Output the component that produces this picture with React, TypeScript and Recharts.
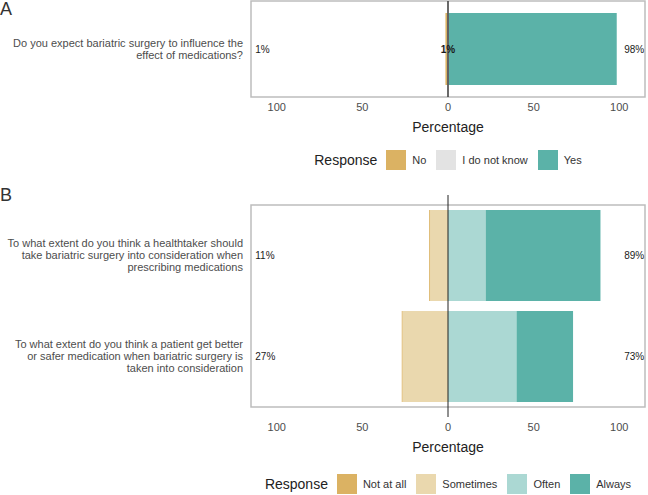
import React from 'react';
import { BarChart, Bar, XAxis, YAxis, ReferenceLine, ReferenceArea, ReferenceDot } from 'recharts';

const FONT = '"Liberation Sans", Arial, Helvetica, sans-serif';

// ---------- Panel A data ----------
const questionsA = ['Do you expect bariatric surgery to influence the\neffect of medications?'];
const noA = [1];
const dontKnowA = [1];
const yesA = [98];
const responsesA = ['No', 'I do not know', 'Yes'];
const coloursA = ['#DBB263', '#E3E3E3', '#5BB2A8'];

// ---------- Panel B data ----------
const questionsB = [
  'To what extent do you think a healthtaker should\ntake bariatric surgery into consideration when\nprescribing medications',
  'To what extent do you think a patient get better\nor safer medication when bariatric surgery is\ntaken into consideration',
];
const notAtAllB = [0.5, 0.5];
const sometimesB = [10.5, 26.5];
const oftenB = [22, 40];
const alwaysB = [67, 33];
const responsesB = ['Not at all', 'Sometimes', 'Often', 'Always'];
const coloursB = ['#DBB263', '#EAD8AE', '#ABD8D3', '#5BB2A8'];

const xTicks = [-100, -50, 0, 50, 100];
const xDomain: [number, number] = [-115, 115];

const dataA = questionsA.map((q, i) => ({
  q,
  dkLow: -dontKnowA[i] / 2,
  no: -noA[i],
  dkHigh: dontKnowA[i] / 2,
  yes: yesA[i],
  left: noA[i],
  mid: dontKnowA[i],
  right: yesA[i],
}));

const dataB = questionsB.map((q, i) => ({
  q,
  sometimes: -sometimesB[i],
  notAtAll: -notAtAllB[i],
  often: oftenB[i],
  always: alwaysB[i],
  left: notAtAllB[i] + sometimesB[i],
  right: oftenB[i] + alwaysB[i],
}));

const QTick = (props: any) => {
  const { x, y, payload } = props;
  const lines = String(payload.value).split('\n');
  const lh = 12;
  const start = -((lines.length - 1) * lh) / 2;
  return (
    <text x={x} y={y} textAnchor="end" fill="#4d4d4d" fontSize={11} fontFamily={FONT}>
      {lines.map((l, i) => (
        <tspan key={i} x={x} y={y + start + i * lh} dy="0.35em">
          {l}
        </tspan>
      ))}
    </text>
  );
};

const pctLabel = (text: string, anchor: 'start' | 'middle' | 'end', bold = false) => (props: any) => {
  const vb = props.viewBox || {};
  return (
    <text
      x={vb.x}
      y={vb.y}
      dy="0.35em"
      textAnchor={anchor}
      fontSize={10}
      fontWeight={bold ? 'bold' : 'normal'}
      fill="#1a1a1a"
      fontFamily={FONT}
    >
      {text}
    </text>
  );
};

const Legend = ({ items, colours, top }: { items: string[]; colours: string[]; top: number }) => (
  <div
    style={{
      position: 'absolute',
      left: 251,
      width: 394,
      top,
      height: 20,
      display: 'flex',
      justifyContent: 'center',
      alignItems: 'center',
      fontFamily: FONT,
    }}
  >
    <span style={{ fontSize: 14, color: '#222', marginRight: 9 }}>Response</span>
    {items.map((it, i) => (
      <React.Fragment key={it}>
        <span style={{ width: 20, height: 20, background: colours[i], display: 'inline-block' }} />
        <span style={{ fontSize: 11, color: '#333', marginLeft: 6, marginRight: i === items.length - 1 ? 0 : 10 }}>{it}</span>
      </React.Fragment>
    ))}
  </div>
);

const axisProps = {
  type: 'number' as const,
  domain: xDomain,
  ticks: xTicks,
  tickFormatter: (v: number) => String(Math.abs(v)),
  axisLine: false,
  tickLine: false,
  tickSize: 6,
  tickMargin: 0,
  tick: { fontSize: 11, fill: '#4d4d4d', fontFamily: FONT },
  height: 43,
  label: { value: 'Percentage', position: 'insideBottom' as const, offset: 8, fill: '#222', fontSize: 14, fontFamily: FONT },
};

export default function App() {
  return (
    <div style={{ position: 'absolute', left: 0, top: 0, width: 648, height: 495, background: '#fff', fontFamily: FONT }}>
      <div style={{ position: 'absolute', left: 0, top: 0, fontSize: 18, color: '#333', lineHeight: '18px' }}>A</div>
      <div style={{ position: 'absolute', left: 0, top: 186, fontSize: 18, color: '#333', lineHeight: '18px' }}>B</div>

      <div style={{ position: 'absolute', left: 0, top: 0 }}>
        <BarChart
          width={648}
          height={140}
          data={dataA}
          layout="vertical"
          stackOffset="sign"
          margin={{ top: 1, right: 3, bottom: 0, left: 0 }}
        >
          <XAxis {...axisProps} />
          <YAxis type="category" dataKey="q" width={251} axisLine={false} tickLine={false} tickSize={6} tickMargin={2} tick={<QTick />} />
          <ReferenceArea x1={xDomain[0]} x2={xDomain[1]} fill="none" fillOpacity={0} stroke="#bdbdbd" strokeWidth={1.5} />
          <Bar dataKey="dkLow" stackId="s" fill={coloursA[1]} barSize={72} isAnimationActive={false} />
          <Bar dataKey="no" stackId="s" fill={coloursA[0]} barSize={72} isAnimationActive={false} />
          <Bar dataKey="dkHigh" stackId="s" fill={coloursA[1]} barSize={72} isAnimationActive={false} />
          <Bar dataKey="yes" stackId="s" fill={coloursA[2]} barSize={72} isAnimationActive={false} />
          <ReferenceLine x={0} stroke="#444" strokeWidth={1.6} />
          {dataA.map((d) => (
            <ReferenceDot key={'l' + d.q} x={-112.5} y={d.q} r={0} fill="none" stroke="none" label={pctLabel(`${Math.round(d.left)}%`, 'start')} />
          ))}
          {dataA.map((d) => (
            <ReferenceDot key={'m' + d.q} x={0} y={d.q} r={0} fill="none" stroke="none" label={pctLabel(`${Math.round(d.mid)}%`, 'middle', true)} />
          ))}
          {dataA.map((d) => (
            <ReferenceDot key={'r' + d.q} x={114.5} y={d.q} r={0} fill="none" stroke="none" label={pctLabel(`${Math.round(d.right)}%`, 'end')} />
          ))}
        </BarChart>
      </div>
      <Legend items={responsesA} colours={coloursA} top={150} />

      <div style={{ position: 'absolute', left: 0, top: 180 }}>
        <BarChart
          width={648}
          height={280}
          data={dataB}
          layout="vertical"
          stackOffset="sign"
          margin={{ top: 15, right: 3, bottom: 0, left: 0 }}
        >
          <XAxis {...axisProps} />
          <YAxis
            type="category"
            dataKey="q"
            width={251}
            axisLine={false}
            tickLine={false}
            tickSize={6}
            tickMargin={2}
            padding={{ top: 10, bottom: 10 }}
            tick={<QTick />}
          />
          <ReferenceArea x1={xDomain[0]} x2={xDomain[1]} fill="none" fillOpacity={0} stroke="#bdbdbd" strokeWidth={1.5} />
          <Bar dataKey="sometimes" stackId="s" fill={coloursB[1]} barSize={91} isAnimationActive={false} />
          <Bar dataKey="notAtAll" stackId="s" fill={coloursB[0]} barSize={91} isAnimationActive={false} />
          <Bar dataKey="often" stackId="s" fill={coloursB[2]} barSize={91} isAnimationActive={false} />
          <Bar dataKey="always" stackId="s" fill={coloursB[3]} barSize={91} isAnimationActive={false} />
          <ReferenceLine x={0} stroke="#222" strokeWidth={1} />
          {dataB.map((d) => (
            <ReferenceDot key={'l' + d.q} x={-112.5} y={d.q} r={0} fill="none" stroke="none" label={pctLabel(`${Math.round(d.left)}%`, 'start')} />
          ))}
          {dataB.map((d) => (
            <ReferenceDot key={'r' + d.q} x={114.5} y={d.q} r={0} fill="none" stroke="none" label={pctLabel(`${Math.round(d.right)}%`, 'end')} />
          ))}
        </BarChart>
      </div>
      <Legend items={responsesB} colours={coloursB} top={474} />
    </div>
  );
}
